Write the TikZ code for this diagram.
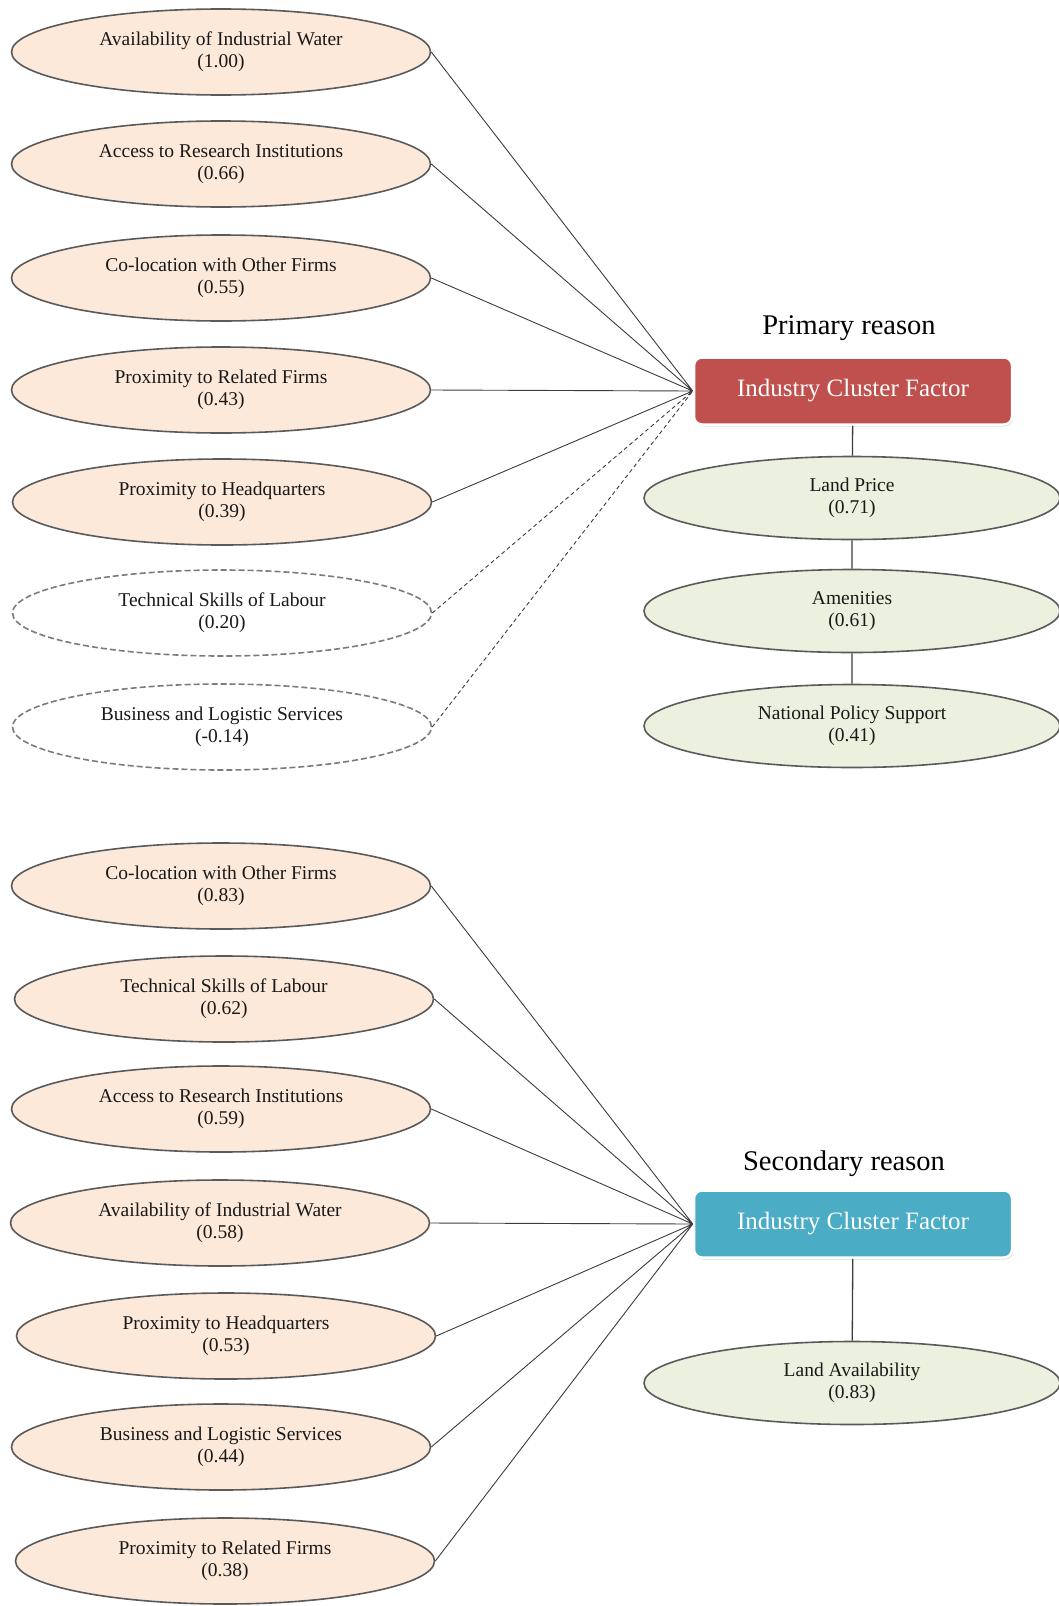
\documentclass[tikz,border=0pt]{standalone}
\usepackage{fontspec}
\setmainfont{Liberation Serif}
\usetikzlibrary{shapes.geometric,shadows}
\definecolor{peach}{HTML}{FDE9D9}
\definecolor{sage}{HTML}{EBF1DE}
\definecolor{rimgray}{HTML}{5A5A5A}
\definecolor{redbox}{HTML}{C0504D}
\definecolor{bluebox}{HTML}{4BACC6}
\definecolor{linkgray}{HTML}{3C3C3C}
\tikzstyle{fac}=[ellipse,draw=rimgray,fill=peach,line width=1.6pt,minimum width=419pt,minimum height=86pt,inner sep=0pt,align=center,text=black!90,font=\fontsize{19.5}{22}\selectfont]
\tikzstyle{weak}=[fac,fill=white,draw=rimgray!80,dash pattern=on 6pt off 3pt]
\tikzstyle{site}=[fac,fill=sage,minimum width=416pt,minimum height=83pt]
\tikzstyle{clus}=[rectangle,rounded corners=8pt,draw=white,line width=2.5pt,minimum width=318pt,minimum height=67pt,text=white,font=\fontsize{25}{29}\selectfont,drop shadow={opacity=0.25,shadow xshift=1pt,shadow yshift=-2pt}]
\tikzstyle{head}=[font=\fontsize{28.5}{32}\selectfont]
\tikzstyle{link}=[draw=linkgray,line width=0.9pt]

\begin{document}
\begin{tikzpicture}[x=1pt,y=-1pt]
  \clip (0,0) rectangle (1059,1606);
  % primary reason
  \node [style=fac] (a1) at (221,52) {Availability of Industrial Water\\(1.00)};
  \node [style=fac] (a2) at (221,164) {Access to Research Institutions\\(0.66)};
  \node [style=fac] (a3) at (221,278) {Co-location with Other Firms\\(0.55)};
  \node [style=fac] (a4) at (221,390) {Proximity to Related Firms\\(0.43)};
  \node [style=fac] (a5) at (222,502) {Proximity to Headquarters\\(0.39)};
  \node [style=weak] (a6) at (222,613) {Technical Skills of Labour\\(0.20)};
  \node [style=weak] (a7) at (222,727) {Business and Logistic Services\\(-0.14)};
  \node [style=head] (t1) at (849,328) {Primary reason};
  \node [style={clus,fill=redbox}] (r1) at (853,391) {Industry Cluster Factor};
  \node [style=site] (s1) at (852,498) {Land Price\\(0.71)};
  \node [style=site] (s2) at (852,611) {Amenities\\(0.61)};
  \node [style=site] (s3) at (852,726) {National Policy Support\\(0.41)};
\path[link]
(a1.east) -- (r1.west)
(a2.east) -- (r1.west)
(a3.east) -- (r1.west)
(a4.east) -- (r1.west)
(a5.east) -- (r1.west);
\path[link,line width=1.3pt]
(r1) -- (s1) (s1) -- (s2) (s2) -- (s3);
\path[link,dash pattern=on 4pt off 3pt]
(a6.east) -- (r1.west)
(a7.east) -- (r1.west);
  % secondary reason
  \node [style=fac] (b1) at (221,886) {Co-location with Other Firms\\(0.83)};
  \node [style=fac] (b2) at (224,999) {Technical Skills of Labour\\(0.62)};
  \node [style=fac] (b3) at (221,1109) {Access to Research Institutions\\(0.59)};
  \node [style=fac] (b4) at (220,1223) {Availability of Industrial Water\\(0.58)};
  \node [style=fac] (b5) at (226,1336) {Proximity to Headquarters\\(0.53)};
  \node [style=fac] (b6) at (221,1447) {Business and Logistic Services\\(0.44)};
  \node [style=fac] (b7) at (225,1561) {Proximity to Related Firms\\(0.38)};
  \node [style=head] (t2) at (844,1164) {Secondary reason};
  \node [style={clus,fill=bluebox}] (r2) at (853,1224) {Industry Cluster Factor};
  \node [style=site] (s4) at (852,1383) {Land Availability\\(0.83)};
\path[link]
(b1.east) -- (r2.west)
(b2.east) -- (r2.west)
(b3.east) -- (r2.west)
(b4.east) -- (r2.west)
(b5.east) -- (r2.west)
(b6.east) -- (r2.west)
(b7.east) -- (r2.west);
\path[link,line width=1.3pt]
(r2) -- (s4);
\end{tikzpicture}
\end{document}
